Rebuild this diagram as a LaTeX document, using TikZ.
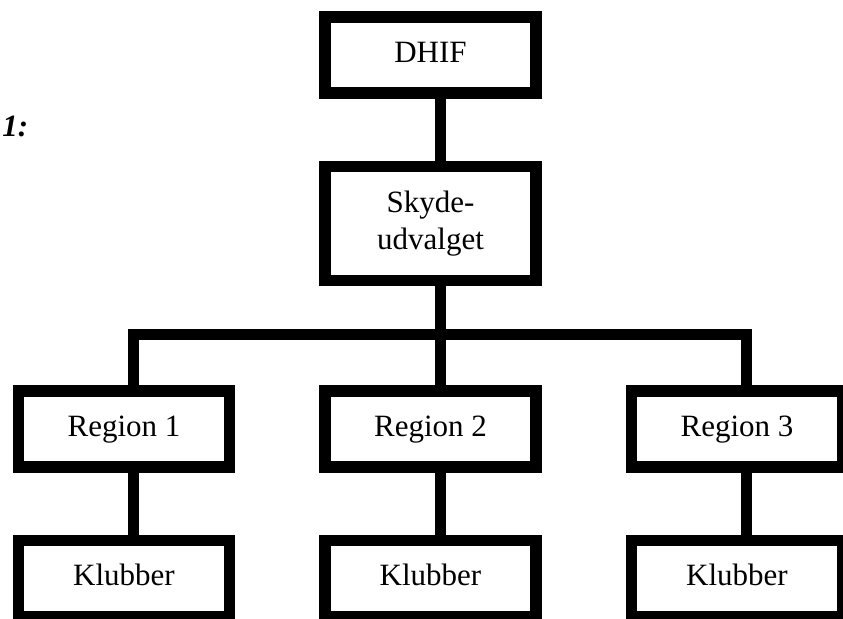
\documentclass[tikz,border=0pt]{standalone}
\usepackage{fontspec}
\setmainfont{Liberation Serif}
\usetikzlibrary{positioning}

\begin{document}
\begin{tikzpicture}[x=0.5pt, y=-0.5pt, node distance=31pt and 42pt,
    box/.style={draw, black, line width=5.75pt, inner sep=0pt,
      minimum width=105.5pt, minimum height=38pt,
      font=\fontsize{15.5pt}{18.5pt}\selectfont},
    unit/.style={box, text height=10.7pt, text depth=3.4pt},
    link/.style={draw, black, line width=5.5pt}]
  \useasboundingbox (0,0) rectangle (843,619);
  \clip (0,0) rectangle (843,619);

  \node[anchor=base west, inner sep=0pt, font=\fontsize{15.5pt}{18.5pt}\selectfont\bfseries\itshape] (fignum) at (2,136.5) {1:};

  \node[unit] (dhif) at (430.5,55) {DHIF};
  \node[box, minimum height=57pt, align=center] (skyde) [below = of dhif] {Skyde-\\udvalget};

  \node[unit] (reg2) [below = 49.5pt of skyde] {Region 2};
  \node[unit] (reg1) [left = of reg2] {Region 1};
  \node[unit] (reg3) [right = of reg2] {Region 3};

  \node[unit] (klub1) [below = of reg1] {Klubber};
  \node[unit] (klub2) [below = of reg2] {Klubber};
  \node[unit] (klub3) [below = of reg3] {Klubber};

  \coordinate (hub) at (440,335);

  \path[link]
  ([xshift=4.75pt]dhif.south) edge ([xshift=4.75pt]skyde.north)
  ([xshift=4.75pt]skyde.south) edge ([xshift=4.75pt]reg2.north)
  ([xshift=4.75pt]reg1.south) edge ([xshift=4.75pt]klub1.north)
  ([xshift=4.75pt]reg2.south) edge ([xshift=4.75pt]klub2.north)
  ([xshift=4.75pt]reg3.south) edge ([xshift=4.75pt]klub3.north);
  \draw[link] ([xshift=4.75pt]reg1.north) |- (hub) -| ([xshift=4.75pt]reg3.north);
\end{tikzpicture}
\end{document}
